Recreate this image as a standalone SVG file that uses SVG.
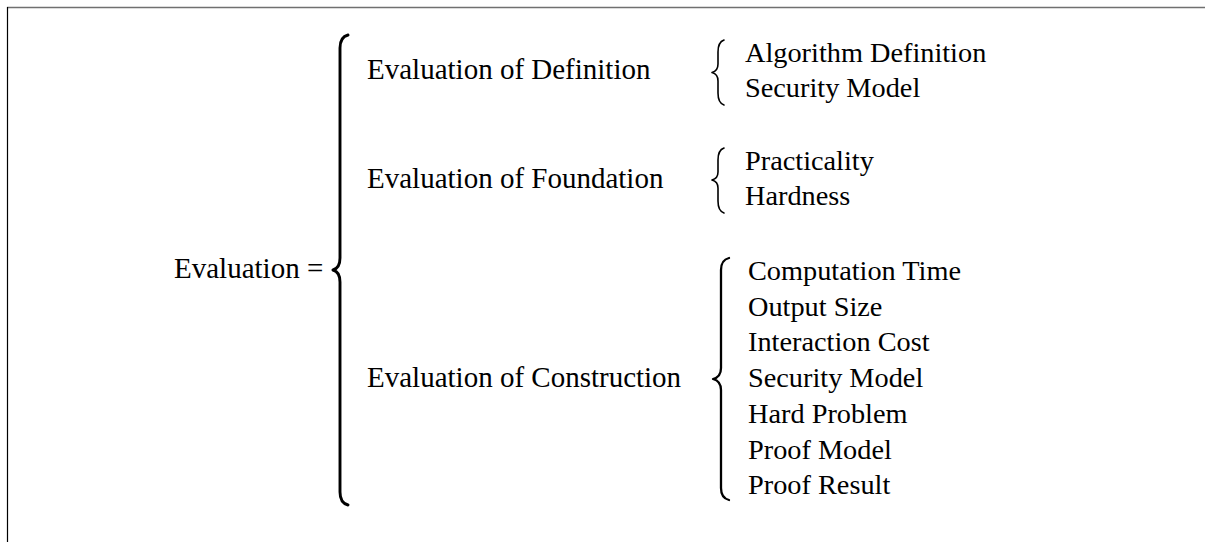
<svg xmlns="http://www.w3.org/2000/svg" width="1205" height="542" viewBox="0 0 1205 542">
<style>
text{font-family:"Liberation Serif","Times New Roman",serif;font-size:29px;fill:#000}
.item{font-size:28.3px}
.brace{fill:none;stroke:#000;stroke-linecap:round;stroke-linejoin:round}
.big{stroke-width:2.9}
.mid{stroke-width:2.3}
.small{stroke-width:1.6}
</style>
<rect x="0" y="0" width="1205" height="542" fill="#fff"/>
<g id="frame">
<line x1="7" y1="7.5" x2="1205" y2="7.5" stroke="#707070" stroke-width="1.5"/>
<line x1="7.5" y1="7" x2="7.5" y2="542" stroke="#000" stroke-width="1.2"/>
</g>
<g id="connectors">
<path class="brace big" d="M348,35 Q340,37 340,48 L340,258 Q340,268 333,270 Q340,272 340,282 L340,492 Q340,503 348,505"/>
<path class="brace small" d="M724,40 Q718,42 718,52 L718,64 Q718,71 712,72.5 Q718,74 718,81 L718,93 Q718,103 724,105"/>
<path class="brace small" d="M724,148 Q718,150 718,160 L718,172 Q718,178.5 712,180 Q718,181.5 718,188 L718,201 Q718,211 724,213"/>
<path class="brace mid" d="M729,258 Q721,260 721,270 L721,368 Q721,377 713,379 Q721,381 721,390 L721,488 Q721,498 729,500"/>
</g>
<g id="root"><text x="174" y="278">Evaluation =</text></g>
<g id="definition"><text x="367" y="79">Evaluation of Definition</text></g>
<g id="foundation"><text x="367" y="188">Evaluation of Foundation</text></g>
<g id="construction"><text x="367" y="387">Evaluation of Construction</text></g>
<g id="def-items">
<text class="item" x="745" y="62">Algorithm Definition</text>
<text class="item" x="745" y="97">Security Model</text>
</g>
<g id="found-items">
<text class="item" x="745" y="170">Practicality</text>
<text class="item" x="745" y="205">Hardness</text>
</g>
<g id="cons-items">
<text class="item" x="748" y="280">Computation Time</text>
<text class="item" x="748" y="315.7">Output Size</text>
<text class="item" x="748" y="351.4">Interaction Cost</text>
<text class="item" x="748" y="387">Security Model</text>
<text class="item" x="748" y="422.8">Hard Problem</text>
<text class="item" x="748" y="458.5">Proof Model</text>
<text class="item" x="748" y="494">Proof Result</text>
</g>
</svg>
